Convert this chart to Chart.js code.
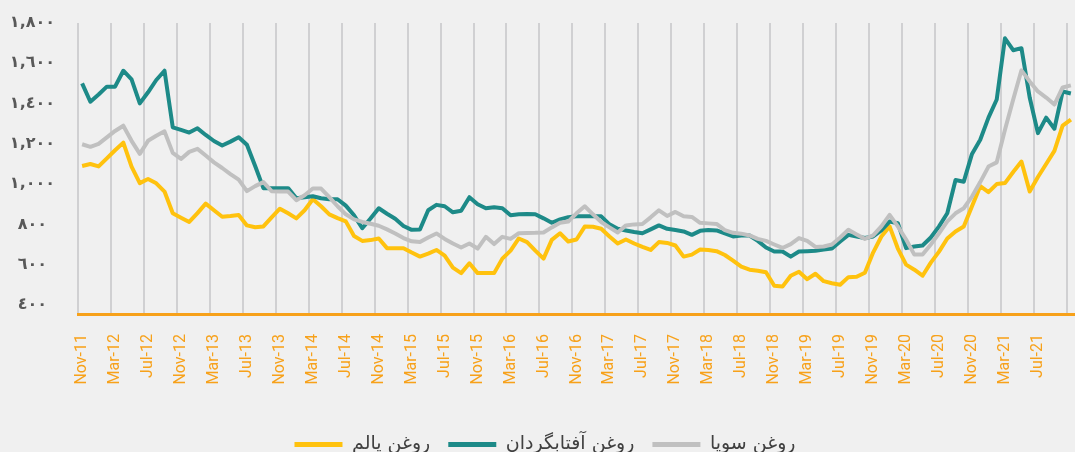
<!DOCTYPE html>
<html>
<head>
<meta charset="utf-8">
<script src="https://cdn.jsdelivr.net/npm/chart.js@4.4.0/dist/chart.umd.min.js"></script>
<style>
  html, body { margin: 0; padding: 0; background: #f0f0f0; overflow: hidden; }
  #wrap { position: absolute; left: 0; top: 0; width: 1075px; height: 452px; }
</style>
</head>
<body>
<div id="wrap"><canvas id="chart" width="1075" height="452"></canvas></div>
<script>
// monthly categories, Nov-11 onwards
const monthNames = ['Jan','Feb','Mar','Apr','May','Jun','Jul','Aug','Sep','Oct','Nov','Dec'];
const categories = [];
for (let k = 0; k < 121; k++) {
    const m = (10 + k) % 12;
    const y = 11 + Math.floor((10 + k) / 12);
    categories.push(monthNames[m] + '-' + y);
}

const seriesNames = ['روغن پالم', 'روغن آفتابگردان', 'روغن سویا'];

const palm = [1090,1100,1088,1128,1168,1206,1087,1005,1025,1004,
    963,855,833,812,856,903,870,838,842,847,
    795,786,790,835,878,855,830,870,925,890,
    850,831,815,742,718,722,730,682,682,682,
    660,640,655,673,645,585,558,607,558,558,
    558,630,670,730,712,670,630,723,756,715,
    725,789,788,778,740,705,725,705,688,673,
    712,708,695,640,650,675,673,667,648,620,
    590,575,570,562,495,491,545,565,528,555,
    518,508,500,538,540,560,660,740,790,680,
    600,575,545,610,665,730,765,789,890,990,
    960,1000,1005,1060,1112,963,1035,1100,1165,1290,
    1320];

const sunflower = [1500,1409,1445,1484,1484,1563,1520,1401,1456,1517,
    1563,1282,1269,1256,1277,1244,1214,1192,1211,1233,
    1195,1090,980,980,980,980,930,935,940,930,
    925,925,893,845,781,829,880,853,828,792,
    773,775,870,897,890,860,868,935,900,880,
    885,880,845,850,852,850,830,808,825,836,
    840,840,840,840,800,778,770,762,756,775,
    795,778,772,765,748,768,772,770,755,740,
    745,745,718,685,665,665,640,665,667,669,
    675,680,715,748,740,732,740,770,814,806,
    682,690,695,735,790,855,1020,1012,1150,1220,
    1330,1420,1724,1665,1675,1430,1253,1330,1275,1460,
    1450];

const soy = [1198,1185,1200,1232,1264,1290,1215,1150,1215,1240,
    1262,1155,1125,1160,1175,1142,1108,1080,1050,1022,
    965,990,1010,965,963,963,920,945,978,978,
    935,890,850,825,812,803,793,775,755,732,
    716,712,735,755,728,705,685,705,680,738,
    702,738,728,756,757,758,760,785,808,814,
    855,890,850,812,785,760,795,800,802,835,
    870,842,862,840,837,808,805,802,772,758,
    754,745,728,718,700,683,702,732,718,688,
    690,700,735,773,750,728,745,790,847,790,
    725,650,650,700,756,815,855,880,938,1010,
    1087,1108,1270,1420,1565,1510,1460,1430,1395,1480,
    1490];

const yTickValues = [400, 600, 800, 1000, 1200, 1400, 1600, 1800];
const yTickLabels = ['٤٠٠', '٦٠٠', '٨٠٠', '١,٠٠٠', '١,٢٠٠', '١,٤٠٠', '١,٦٠٠', '١,٨٠٠'];

const colors = ['#FFC20E', '#1D8A88', '#C0C0C0'];

function makeSet(i, values, order) {
    return {
        label: seriesNames[i],
        data: values,
        borderColor: colors[i],
        backgroundColor: colors[i],
        borderWidth: 4,
        pointRadius: 0,
        tension: 0,
        borderJoinStyle: 'round',
        order: order
    };
}

// the plot runs a little past the right edge of the picture
function trimPadding(s) {
    s.paddingTop = 0;
    s.paddingBottom = 0;
    s.paddingLeft = 0;
    s.paddingRight = -100;
}

new Chart(document.getElementById('chart'), {
    type: 'line',
    data: {
        labels: categories,
        datasets: [makeSet(0, palm, 3), makeSet(1, sunflower, 2), makeSet(2, soy, 1)]
    },
    options: {
        responsive: false,
        animation: false,
        layout: { autoPadding: false, padding: { top: 23, right: -15, left: 0, bottom: -12 } },
        plugins: {
            tooltip: { enabled: false },
            legend: {
                position: 'bottom',
                labels: {
                    boxWidth: 48,
                    boxHeight: 5,
                    padding: 18,
                    color: '#404040',
                    font: { family: 'DejaVu Sans', size: 19 },
                    sort: (a, b) => a.datasetIndex - b.datasetIndex,
                    generateLabels(chart) {
                        const items = Chart.defaults.plugins.legend.labels.generateLabels(chart);
                        items.forEach(it => { it.lineWidth = 0; });
                        return items;
                    }
                }
            }
        },
        scales: {
            x: {
                offset: true,
                grid: {
                    offset: true,
                    drawTicks: false,
                    lineWidth: 2,
                    color: c => (c.index % 4 === 0 ? '#d0d0d2' : 'rgba(0,0,0,0)')
                },
                border: { color: '#F7A11A', width: 3 },
                ticks: {
                    autoSkip: false,
                    maxRotation: 90,
                    minRotation: 90,
                    padding: 20,
                    color: '#F7A11A',
                    font: { family: 'Roboto', size: 16 },
                    callback: (v, i) => (i % 4 === 0 && i < 120 ? categories[i] : '')
                },
                afterFit: s => { s.height = 103; trimPadding(s); }
            },
            y: {
                min: 355,
                max: 1800,
                grid: { display: false, drawTicks: false, tickLength: 0 },
                border: { display: false },
                afterBuildTicks: s => { s.ticks = yTickValues.map(v => ({ value: v })); },
                afterFit: s => { s.width = 78; trimPadding(s); },
                ticks: {
                    crossAlign: 'center',
                    padding: 23,
                    color: '#595959',
                    font: { family: 'DejaVu Sans', size: 16, weight: 'bold' },
                    callback: v => yTickLabels[yTickValues.indexOf(v)]
                }
            }
        }
    }
});
</script>
</body>
</html>
